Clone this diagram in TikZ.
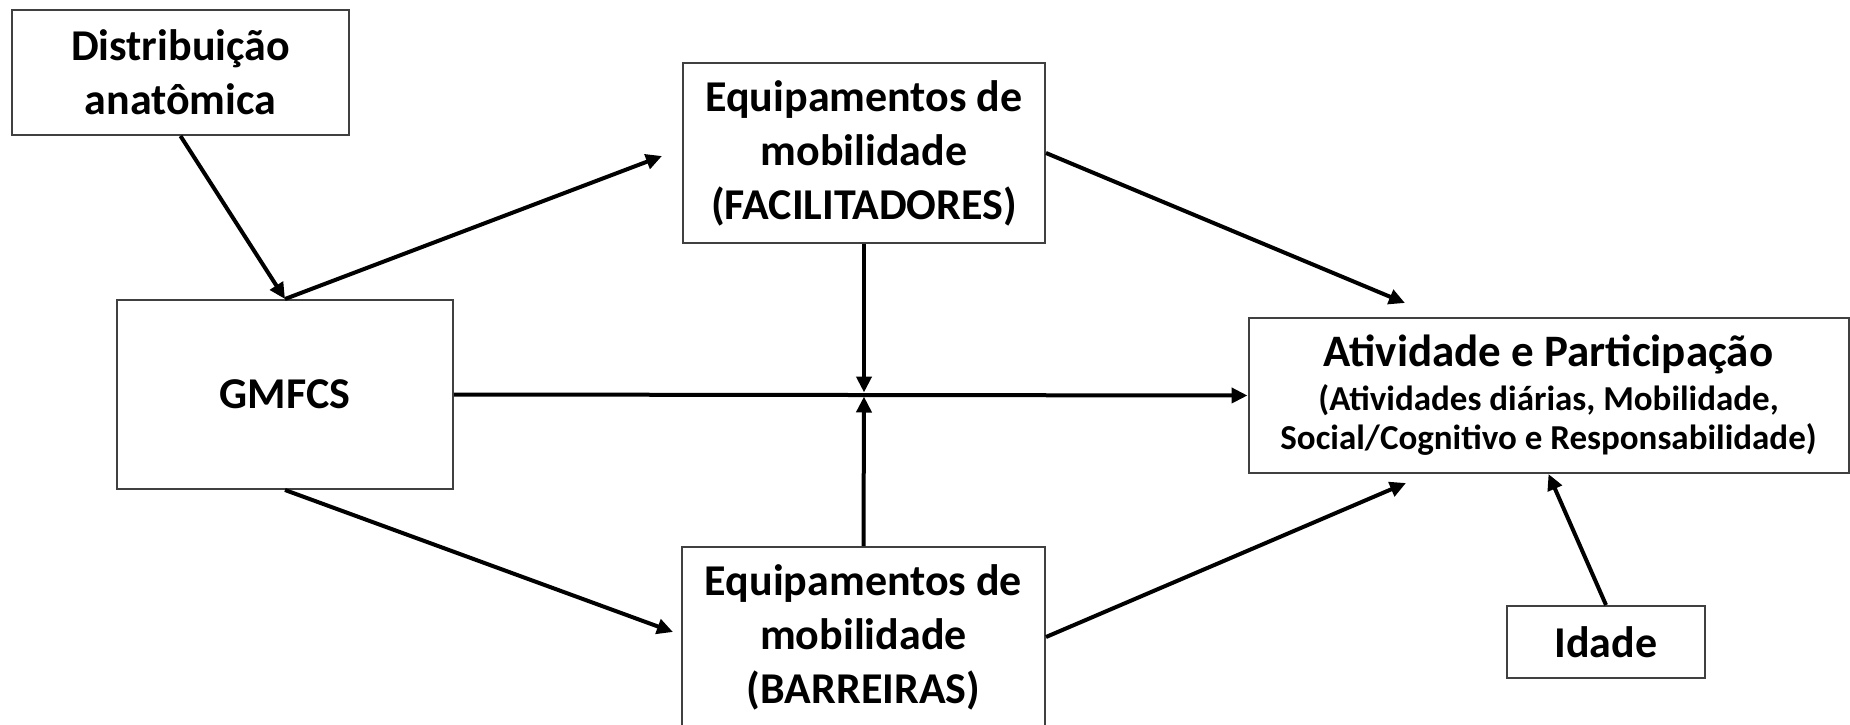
\documentclass[tikz,border=0pt]{standalone}
\usepackage{fontspec}
\setmainfont{Carlito}
\usetikzlibrary{arrows.meta}

\begin{document}
\begin{tikzpicture}[x=1pt,y=-1pt,
    caixa/.style={draw=black!75, line width=2pt, align=center, inner sep=0pt,
      font=\fontsize{44}{54}\selectfont\bfseries},
    seta/.style={line width=4pt, -{Triangle[length=16pt,width=15pt]}}]
  \useasboundingbox (0,0) rectangle (1850,725);

  % Boxes
  \node[caixa, minimum width=337pt, minimum height=125pt] (dist) at (180.5,72.5) {Distribuição\\anatômica};
  \node[caixa, minimum width=336pt, minimum height=189pt] (gmfcs) at (285,394.5) {GMFCS};
  \node[caixa, minimum width=362pt, minimum height=180pt] (facil) at (864,153) {Equipamentos de\\mobilidade\\(FACILITADORES)};
  \node[caixa, minimum width=363pt, minimum height=180pt] (barr) at (863.5,637) {Equipamentos de\\mobilidade\\(BARREIRAS)};
  \node[caixa, minimum width=600pt, minimum height=155pt, font=\fontsize{45}{54}\selectfont\bfseries] (ativ) at (1548.5,395.5)
    {Atividade e Participação\\[-10pt]
     \fontsize{35}{42}\selectfont (Atividades diárias, Mobilidade,\\[-15pt]
     \fontsize{35}{42}\selectfont Social/Cognitivo e Responsabilidade)};
  \node[caixa, minimum width=198pt, minimum height=72pt] (idade) at (1606,642) {Idade};

  % Free arrow ends
  \coordinate (pA) at (662,156);
  \coordinate (pB) at (673,632);
  \coordinate (pC) at (1405,303);
  \coordinate (pD) at (1406,483);
  \coordinate (cruz) at (facil.south |- gmfcs.east);

  % Arrows
  \draw[seta] (dist.south) -- (gmfcs.north);
  \draw[seta] (gmfcs.north) -- (pA);
  \draw[seta] (gmfcs.south) -- (pB);
  \draw[seta] (gmfcs.east) -- (ativ.west);
  \draw[seta, shorten >=2pt] (facil.south) -- (cruz);
  \draw[seta, shorten >=2pt] (barr.north) -- (cruz);
  \draw[seta] (facil.east) -- (pC);
  \draw[seta] (barr.east) -- (pD);
  \draw[seta] (idade.north) -- (ativ.south);
\end{tikzpicture}
\end{document}
